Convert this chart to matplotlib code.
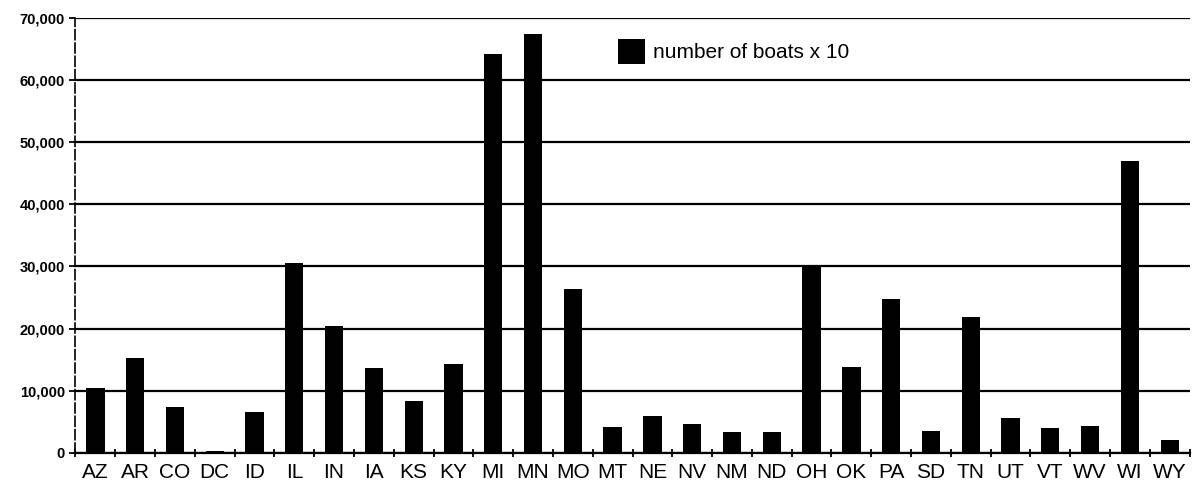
import matplotlib
matplotlib.use("Agg")
import matplotlib.pyplot as plt
from matplotlib.ticker import FuncFormatter, FixedLocator
import numpy as np

states = ["AZ", "AR", "CO", "DC", "ID", "IL", "IN", "IA", "KS", "KY", "MI", "MN", "MO", "MT",
          "NE", "NV", "NM", "ND", "OH", "OK", "PA", "SD", "TN", "UT", "VT", "WV", "WI", "WY"]
boats_x10 = [10400, 15200, 7400, 300, 6600, 30500, 20400, 13600, 8300, 14300, 64200, 67400, 26300, 4200,
             5900, 4600, 3400, 3400, 30200, 13800, 24700, 3600, 21800, 5600, 4000, 4400, 47000, 2100]
series_label = "number of boats x 10"
y_ticks = [0, 10000, 20000, 30000, 40000, 50000, 60000, 70000]

plt.rcParams['font.family'] = ['Liberation Sans', 'DejaVu Sans']

fig = plt.figure(figsize=(11.98, 4.95), dpi=100)
ax = fig.add_axes([0.063, 0.085, 0.93, 0.879])

x = np.arange(len(states))
ax.bar(x, boats_x10, width=0.46, color='black', label=series_label, zorder=3)

ax.set_xlim(-0.5, len(states) - 0.5)
ax.set_ylim(0, 70000)
ax.set_yticks(y_ticks)
ax.yaxis.set_major_formatter(FuncFormatter(lambda v, p: f"{int(v):,}"))
ax.grid(axis='y', color='black', linewidth=1.6, zorder=1)

ax.set_xticks(x)
ax.set_xticklabels(states, fontsize=15)
ax.tick_params(axis='x', which='major', length=0, pad=7)
ax.xaxis.set_minor_locator(FixedLocator(np.arange(-0.5, len(states), 1.0)))
ax.tick_params(axis='x', which='minor', length=6, direction='inout', width=1.3)
ax.tick_params(axis='y', labelsize=10.5, length=4, width=1.3, direction='out')
for lbl in ax.get_yticklabels():
    lbl.set_fontweight('bold')

for s in ['top', 'right']:
    ax.spines[s].set_visible(False)
ax.spines['left'].set_linewidth(1.2)
ax.spines['left'].set_linestyle((0, (6, 2)))
ax.spines['bottom'].set_linewidth(1.6)

leg = ax.legend(loc='upper left', bbox_to_anchor=(0.47, 0.995), frameon=False,
                fontsize=15, handlelength=1.3, handleheight=1.5, handletextpad=0.4)

fig.savefig("out.png", dpi=100)
